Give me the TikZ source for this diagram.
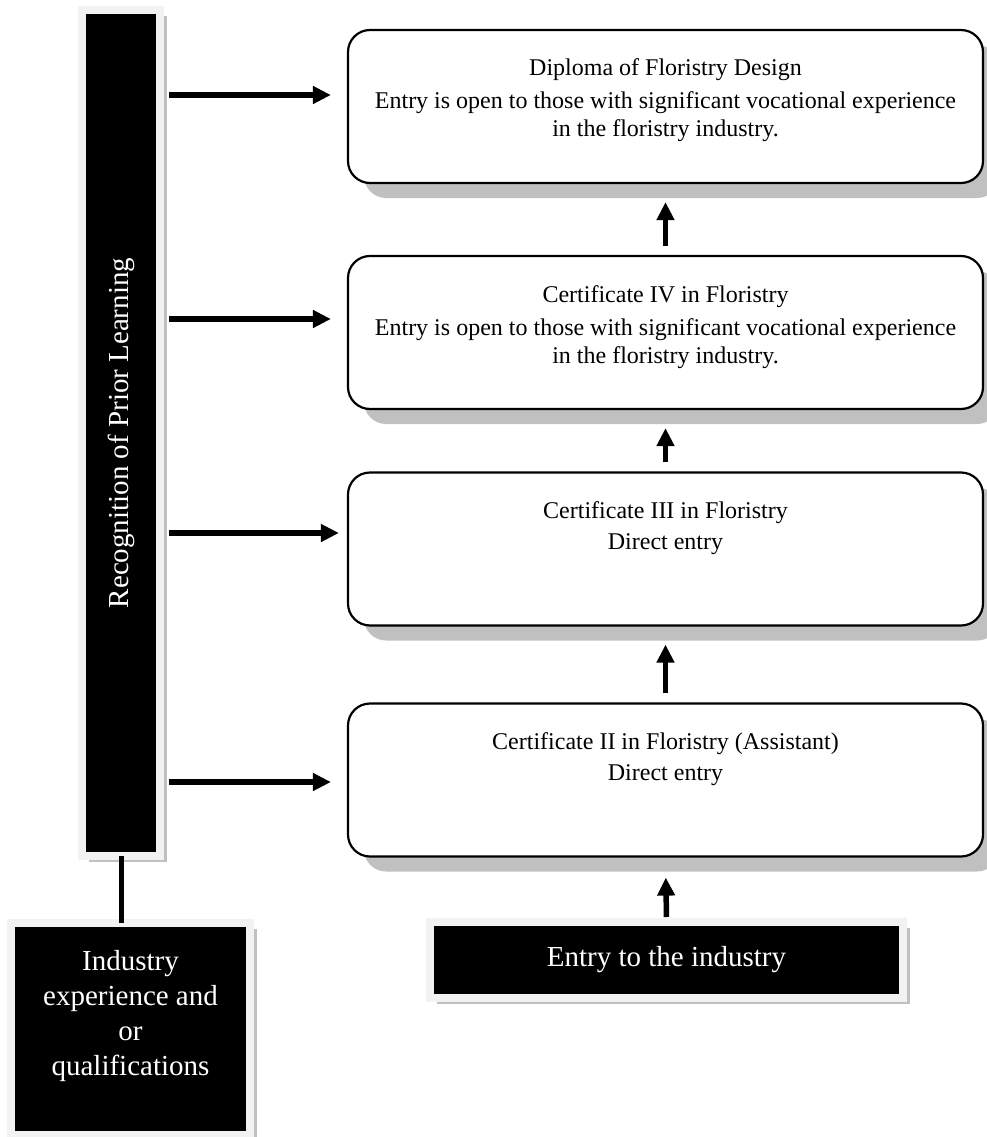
\documentclass[tikz,border=0pt]{standalone}
\usepackage{fontspec}
\setmainfont{Liberation Serif}
\usepackage{tikz}
\usetikzlibrary{
  arrows.meta,%
  positioning,%
  shadows,
  calc
}
\definecolor{shadowgray}{HTML}{C0C0C0}
\definecolor{rimgray}{HTML}{F2F2F2}
\tikzset{>={Triangle[length=18pt,width=17pt]}}
\tikzset{course/.style={draw, line width=2.2pt, rounded corners=22pt, fill=white,
    minimum width=635pt, minimum height=153pt, inner sep=0pt,
    drop shadow={shadow xshift=16pt, shadow yshift=-15pt, fill=shadowgray, opacity=1}},
  coursetext/.style={inner sep=0pt, align=center, font=\fontsize{24pt}{28pt}\selectfont},
  darkbox/.style={fill=black, draw=rimgray, line width=8pt, inner sep=0pt, text=white,
    align=center, font=\fontsize{29pt}{35pt}\selectfont,
    drop shadow={shadow xshift=7pt, shadow yshift=-6pt, fill=shadowgray, opacity=1}},
  flow/.style={->, line width=5.5pt, shorten <=5pt, shorten >=16pt},
  lift/.style={->, line width=5.5pt, shorten <=9pt, shorten >=18pt}}

\begin{document}
\begin{tikzpicture}[x=1pt, y=-1pt]
  \useasboundingbox (0,0) rectangle (987,1137);
  % the four courses
  \node[course] (dip) at (665.5,106.5) {};
  \node[course] (cert4) at (665.5,332.5) {};
  \node[course] (cert3) at (665.5,549) {};
  \node[course] (cert2) at (665.5,780) {};
  \node[coursetext, below=30pt of dip.north] (diptext) {Diploma of Floristry Design\\[5pt]
    Entry is open to those with significant vocational experience\\ in the floristry industry.};
  \node[coursetext, below=30pt of cert4.north] (cert4text) {Certificate IV in Floristry\\[5pt]
    Entry is open to those with significant vocational experience\\ in the floristry industry.};
  \node[coursetext, below=30pt of cert3.north] (cert3text) {Certificate III in Floristry\\[3pt]
    Direct entry};
  \node[coursetext, below=30pt of cert2.north] (cert2text) {Certificate II in Floristry (Assistant)\\[3pt]
    Direct entry};
  % black boxes
  \node[darkbox, minimum width=78pt, minimum height=846pt] (rpl) at (121,433)
    {\rotatebox{90}{Recognition of Prior Learning}};
  \node[darkbox, minimum width=239pt, minimum height=212pt] (exp) at (130.5,1029) {};
  \node[inner sep=0pt, text=white, align=center, font=\fontsize{29pt}{35pt}\selectfont]
    (exptext) at ([yshift=13pt]exp.center) {Industry\\ experience and\\ or\\ qualifications};
  \node[darkbox, minimum width=473pt, minimum height=76pt] (entry) at (666.5,960)
    {Entry to the industry};

  \draw[line width=5pt, shorten <=-4pt, shorten >=-4pt] (rpl.south) -- (rpl.south |- exp.north);
  \draw[flow] ([yshift=11.5pt]dip.west -| rpl.east) -- ([yshift=11.5pt]dip.west);
  \draw[flow] ([yshift=13.5pt]cert4.west -| rpl.east) -- ([yshift=13.5pt]cert4.west);
  \draw[flow, shorten >=8pt] ([yshift=16pt]cert3.west -| rpl.east) -- ([yshift=16pt]cert3.west);
  \draw[flow] ([yshift=-2pt]cert2.west -| rpl.east) -- ([yshift=-2pt]cert2.west);
  \draw[lift] (cert4.north) -- (dip.south);
  \draw[lift] (cert3.north) -- (cert4.south);
  \draw[lift] (cert2.north) -- (cert3.south);
  \draw[lift, shorten <=1pt, shorten >=20pt] (entry.north) -- (cert2.south);
\end{tikzpicture}
\end{document}
